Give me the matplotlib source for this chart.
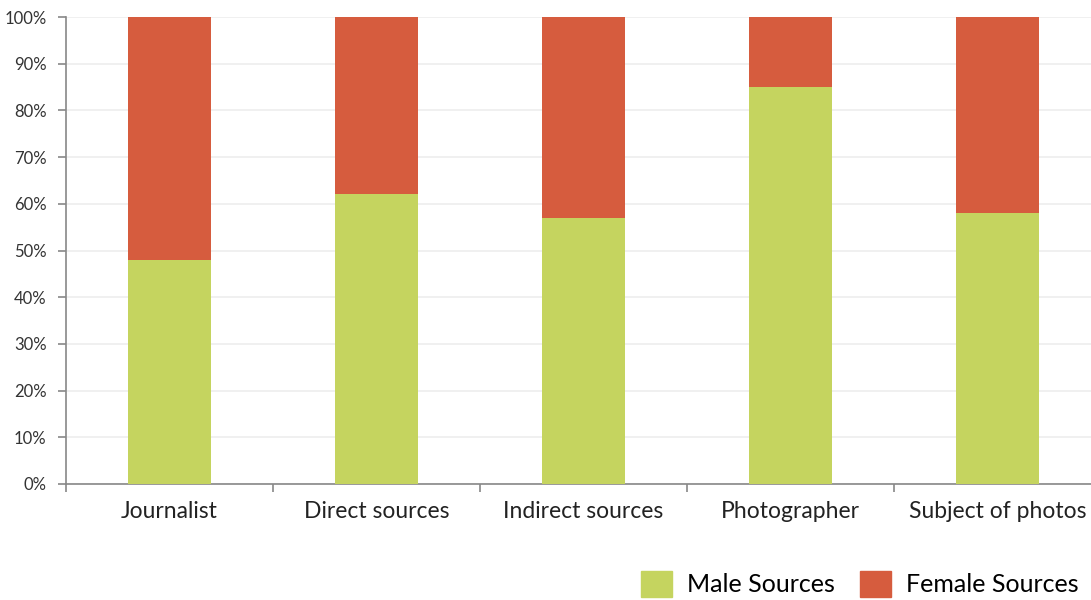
import matplotlib
matplotlib.use("Agg")
import matplotlib.pyplot as plt
from matplotlib.patches import Patch

# Chart data (share of sources, %)
categories = ["Journalist", "Direct sources", "Indirect sources", "Photographer", "Subject of photos"]
male = [48, 62, 57, 85, 58]
female = [100 - m for m in male]
y_ticks = [0, 10, 20, 30, 40, 50, 60, 70, 80, 90, 100]

green = "#C5D45F"
orange = "#D65C3E"
axis_grey = "#888888"

plt.rcParams["font.family"] = ["Lato", "DejaVu Sans"]

fig = plt.figure(figsize=(10.91, 6.0), dpi=100)
ax = fig.add_axes([66 / 1091, 116 / 600, 1035 / 1091, 467 / 600])

x = range(len(categories))
ax.bar(x, male, width=0.4, color=green, zorder=3)
ax.bar(x, female, width=0.4, bottom=male, color=orange, zorder=3)

ax.set_xlim(-0.5, len(categories) - 0.5)
ax.set_ylim(0, 100)
ax.set_yticks(y_ticks)
ax.set_yticklabels([f"{t}%" for t in y_ticks], fontsize=12, color="#333333")
ax.yaxis.grid(True, color="#eeeeee", linewidth=1.2, zorder=0)

ax.set_xticks(list(x))
ax.set_xticklabels(categories, fontsize=16.5, color="#222222")
ax.tick_params(axis="x", length=0, pad=12)
ax.set_xticks([i - 0.5 for i in range(len(categories) + 1)], minor=True)
ax.tick_params(axis="x", which="minor", length=6, color=axis_grey, width=1.2)
ax.tick_params(axis="y", length=6, color=axis_grey, width=1.2, pad=8)

for s in ["top", "right"]:
    ax.spines[s].set_visible(False)
for s in ["left", "bottom"]:
    ax.spines[s].set_color(axis_grey)
    ax.spines[s].set_linewidth(1.2)

handles = [Patch(color=green, label="Male Sources"), Patch(color=orange, label="Female Sources")]
fig.legend(handles=handles, loc="center left", bbox_to_anchor=(628 / 1091, 16 / 600),
           ncol=2, frameon=False, fontsize=18, handlelength=1.25, handleheight=1.2,
           handletextpad=0.6, columnspacing=1.0, borderpad=0)

fig.savefig("out.png", dpi=100)
